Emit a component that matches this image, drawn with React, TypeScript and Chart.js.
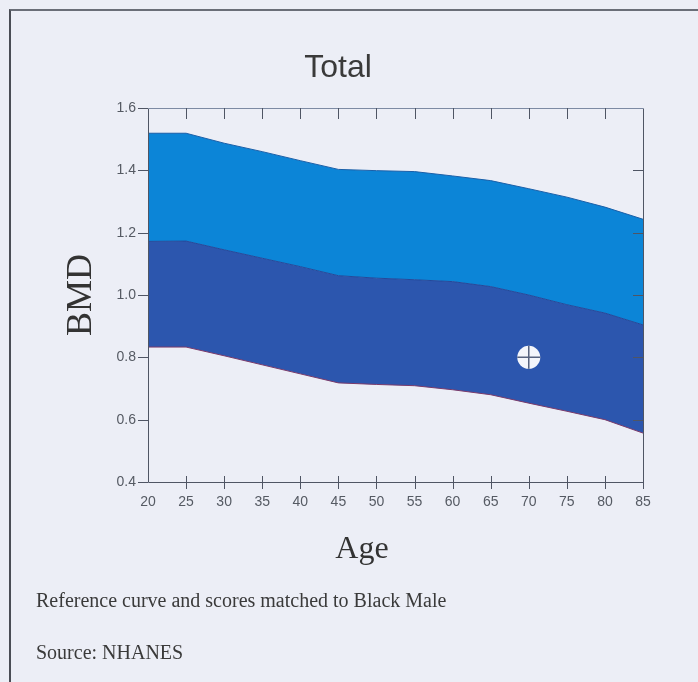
import React, { useEffect, useRef } from "react";
import { Chart, registerables } from "chart.js";

Chart.register(...registerables);

const ages = [20, 25, 30, 35, 40, 45, 50, 55, 60, 65, 70, 75, 80, 85];
const lowerBMD = [0.833, 0.833, 0.805, 0.776, 0.747, 0.718, 0.713, 0.709, 0.696, 0.68, 0.653, 0.627, 0.6, 0.557];
const middleBMD = [1.172, 1.173, 1.145, 1.118, 1.091, 1.062, 1.054, 1.049, 1.043, 1.027, 1.0, 0.969, 0.942, 0.904];
const upperBMD = [1.519, 1.519, 1.487, 1.46, 1.431, 1.403, 1.399, 1.396, 1.382, 1.367, 1.341, 1.314, 1.282, 1.243];
const patientAge = [70];
const patientBMD = [0.8];

const xMin = 20;
const xMax = 85;
const xStep = 5;
const yMin = 0.4;
const yMax = 1.6;
const yStep = 0.2;

const toXY = (vals: number[]) => vals.map((v, i) => ({ x: ages[i], y: v }));

const framePlugin = {
  id: "frameTicks",
  afterDraw(chart: any) {
    const { ctx, chartArea, scales } = chart;
    const { left, right, top, bottom } = chartArea;
    const xs = scales.x;
    const ys = scales.y;
    ctx.save();
    // patient marker cross
    const meta = chart.getDatasetMeta(3);
    ctx.strokeStyle = "#56627e";
    ctx.lineWidth = 1.5;
    meta.data.forEach((el: any) => {
      const r = 11.5;
      ctx.beginPath();
      ctx.moveTo(el.x - r, el.y);
      ctx.lineTo(el.x + r, el.y);
      ctx.moveTo(el.x, el.y - r);
      ctx.lineTo(el.x, el.y + r);
      ctx.stroke();
    });
    ctx.lineWidth = 1;
    ctx.strokeStyle = "#4f5564";
    ctx.beginPath();
    ctx.moveTo(left + 0.5, top + 0.5);
    ctx.lineTo(left + 0.5, bottom + 0.5);
    ctx.lineTo(right + 0.5, bottom + 0.5);
    ctx.lineTo(right + 0.5, top + 0.5);
    ctx.stroke();
    ctx.strokeStyle = "#7d8aa3";
    ctx.beginPath();
    ctx.moveTo(left + 0.5, top + 0.5);
    ctx.lineTo(right + 0.5, top + 0.5);
    ctx.stroke();
    ctx.strokeStyle = "#4f5564";
    ctx.beginPath();
    xs.ticks.forEach((t: any) => {
      const px = Math.round(xs.getPixelForValue(t.value)) + 0.5;
      if (t.value > xMin) {
        ctx.moveTo(px, bottom - 6);
        ctx.lineTo(px, bottom + 7);
      }
      if (t.value > xMin && t.value < xMax) {
        ctx.moveTo(px, top);
        ctx.lineTo(px, top + 11);
      }
    });
    ys.ticks.forEach((t: any) => {
      const py = Math.round(ys.getPixelForValue(t.value)) + 0.5;
      ctx.moveTo(left - 10, py);
      ctx.lineTo(left, py);
      if (t.value > yMin + 1e-6 && t.value < yMax - 1e-6) {
        ctx.moveTo(right - 10, py);
        ctx.lineTo(right, py);
      }
    });
    ctx.stroke();
    ctx.restore();
  },
};

export default function App() {
  const ref = useRef<HTMLCanvasElement | null>(null);

  useEffect(() => {
    if (!ref.current) return;
    const chart = new Chart(ref.current, {
      type: "line",
      data: {
        datasets: [
          {
            label: "Lower",
            data: toXY(lowerBMD),
            borderColor: "#7a3a6a",
            borderWidth: 1,
            pointRadius: 0,
            fill: false,
            tension: 0,
            order: 1,
          },
          {
            label: "Middle",
            data: toXY(middleBMD),
            borderColor: "#23489a",
            borderWidth: 1,
            pointRadius: 0,
            backgroundColor: "#2c56ae",
            fill: "-1",
            tension: 0,
            order: 1,
          },
          {
            label: "Upper",
            data: toXY(upperBMD),
            borderColor: "#1a5fa8",
            borderWidth: 1,
            pointRadius: 0,
            backgroundColor: "#0c85d7",
            fill: "-1",
            tension: 0,
            order: 1,
          },
          {
            label: "Patient",
            data: patientAge.map((a, i) => ({ x: a, y: patientBMD[i] })),
            showLine: false,
            pointStyle: "circle",
            pointRadius: 11.5,
            pointBorderWidth: 0,
            pointBackgroundColor: "#f3f5fb",
            pointBorderColor: "#f3f5fb",
            backgroundColor: "#f3f5fb",
            borderColor: "#f3f5fb",
            fill: false,
            order: 0,
          } as any,
        ],
      },
      options: {
        animation: false,
        responsive: false,
        layout: { padding: { left: 60, right: 55, top: 108, bottom: 110 } },
        plugins: {
          legend: { display: false },
          tooltip: { enabled: false },
          title: { display: false },
        },
        scales: {
          x: {
            type: "linear",
            min: xMin,
            max: xMax,
            afterFit: (s: any) => {
              s.height = 90;
            },
            ticks: {
              stepSize: xStep,
              padding: 12,
              color: "#555a63",
              font: { family: "'Liberation Sans', Arial, sans-serif", size: 14 },
            },
            grid: { display: false, drawTicks: false },
            border: { display: false },
          },
          y: {
            type: "linear",
            min: yMin,
            max: yMax,
            afterFit: (s: any) => {
              s.width = 88;
            },
            ticks: {
              stepSize: yStep,
              padding: 12,
              color: "#555a63",
              font: { family: "'Liberation Sans', Arial, sans-serif", size: 14 },
              callback: (v: any) => Number(v).toFixed(1),
            },
            grid: { display: false, drawTicks: false },
            border: { display: false },
            title: {
              display: true,
              text: "BMD",
              color: "#333",
              font: { family: "'Liberation Serif', 'Times New Roman', serif", size: 36 },
              padding: 0,
            },
          },
        },
      },
      plugins: [framePlugin],
    });
    return () => chart.destroy();
  }, []);

  const serif = "'Liberation Serif', 'Times New Roman', serif";

  return (
    <div
      style={{
        position: "fixed",
        left: 0,
        top: 0,
        width: 698,
        height: 682,
        background: "#eceef6",
        overflow: "hidden",
      }}
    >
      <div
        style={{
          position: "absolute",
          left: 9,
          top: 9,
          width: 800,
          height: 800,
          borderLeft: "2px solid #4a4d55",
          borderTop: "2px solid #6a6e78",
        }}
      />
      <canvas ref={ref} width={698} height={682} style={{ position: "absolute", left: 0, top: 0 }} />
      <div
        style={{
          position: "absolute",
          left: 238,
          top: 50,
          width: 200,
          textAlign: "center",
          font: "32px 'Liberation Sans', Arial, sans-serif",
          lineHeight: "32px",
          color: "#3a3a3a",
        }}
      >
        Total
      </div>
      <div
        style={{
          position: "absolute",
          left: 262,
          top: 531,
          width: 200,
          textAlign: "center",
          font: `32px ${serif}`,
          lineHeight: "32px",
          color: "#333",
        }}
      >
        Age
      </div>
      <div
        style={{
          position: "absolute",
          left: 36,
          top: 590,
          font: `20px ${serif}`,
          lineHeight: "20px",
          color: "#3a3a3a",
          whiteSpace: "nowrap",
        }}
      >
        Reference curve and scores matched to Black Male
      </div>
      <div
        style={{
          position: "absolute",
          left: 36,
          top: 642,
          font: `20px ${serif}`,
          lineHeight: "20px",
          color: "#3a3a3a",
          whiteSpace: "nowrap",
        }}
      >
        Source: NHANES
      </div>
    </div>
  );
}
